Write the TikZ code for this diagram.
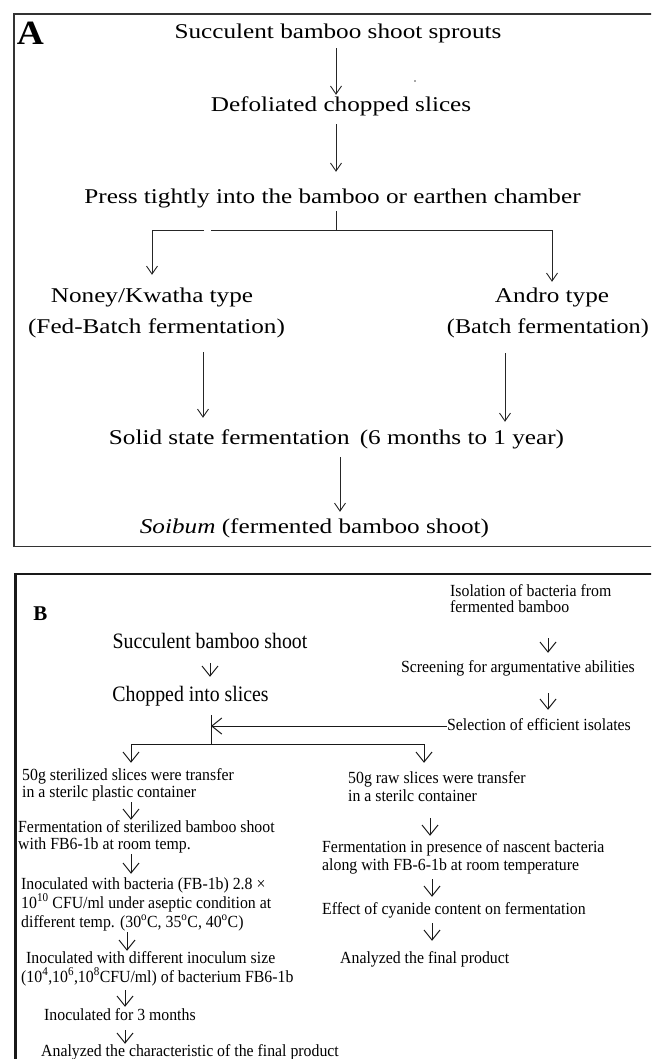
\documentclass[tikz,border=0pt]{standalone}
\usepackage{fontspec}
\setmainfont{Liberation Serif}
\usepackage{graphicx}
\usetikzlibrary{arrows.meta}
\newcommand{\sxA}[1]{\scalebox{1.2}[1]{#1}}
\newcommand{\sxM}[1]{\scalebox{0.9}[1]{#1}}
\newcommand{\sxS}[1]{\scalebox{0.93}[1]{#1}}
\tikzset{
 txA/.style={inner sep=0pt, anchor=base, font=\fontsize{21pt}{25pt}\selectfont, text height=14.5pt, text depth=4.6pt},
 txM/.style={inner sep=0pt, anchor=base, font=\fontsize{22pt}{26pt}\selectfont, text height=15pt, text depth=4.7pt},
 txS/.style={inner sep=0pt, anchor=base west, font=\fontsize{17pt}{20pt}\selectfont, text height=11.6pt, text depth=3.7pt},
 lnA/.style={draw=black!85, line width=0.9pt},
 arA/.style={lnA, -{Straight Barb[length=8pt,width=11pt]}},
 lnB/.style={draw=black!90, line width=1pt},
 arB/.style={lnB, -{Straight Barb[length=10pt,width=16pt]}},
 frameA/.style={draw=black!80, line width=1.4pt},
 frameB/.style={draw=black!90, line width=2.3pt},
}
\begin{document}
\begin{tikzpicture}[x=1pt,y=-1pt]
\useasboundingbox (0,0) rectangle (651,1059);
\clip (0,0) rectangle (651,1059);
% frames
\draw[frameA] (660,14) -- (14,14) -- (14,546.5) -- (660,546.5);
\draw[frameB] (660,574) -- (15.5,574) -- (15.5,1070);

% ---------- Panel A ----------
\node[inner sep=0pt, anchor=base, font=\fontsize{34pt}{38pt}\selectfont\bfseries] (lA) at (30.5,45) {\scalebox{1.1}[1]{A}};
\node[txA] (a1) at (338,39) {\sxA{Succulent bamboo shoot sprouts}};
\node[txA] (a2) at (341,112) {\sxA{Defoliated chopped slices}};
\node[txA] (a3) at (332.5,204) {\sxA{Press tightly into the bamboo or earthen chamber}};
\node[txA] (a4) at (152,302) {\sxA{Noney/Kwatha type}};
\node[txA] (a5) at (552,302) {\sxA{Andro type}};
\node[txA] (a6) at (156.5,333) {\sxA{(Fed-Batch fermentation)}};
\node[txA, anchor=base east] (a7) at (649,333) {\scalebox{1.15}[1]{(Batch fermentation)}};
\node[txA] (a8) at (336.5,444.5) {\sxA{Solid state fermentation\hspace{0.4em}(6 months to 1 year)}};
\node[txA] (a9) at (314.5,533) {\sxA{\textit{Soibum} (fermented bamboo shoot)}};

\coordinate (xa) at (336,0);
\coordinate (J) at (336,230);
\coordinate (gR) at (211,230);
\coordinate (gL) at (204,230);
\coordinate (xl) at (203,0);
\coordinate (xr) at (505,0);
\coordinate (xs) at (340,0);

\draw[arA, shorten <=4.4pt, shorten >=2.5pt] (a1.south -| xa) -- (a2.north -| xa);
\draw[arA, shorten <=7.4pt, shorten >=17.5pt] (a2.south -| xa) -- (a3.north -| xa);
\draw[lnA, shorten <=2.4pt] (a3.south -| xa) -- (J);
\draw[lnA] (J) -- (gR);
\draw[arA, shorten >=12.5pt] (gL) -| (a4.north);
\draw[arA, shorten >=5.5pt] (J) -| (a5.north);
\draw[arA, shorten <=14.4pt, shorten >=12pt] (a6.south -| xl) -- (a8.north -| xl);
\draw[arA, shorten <=15.4pt, shorten >=8pt] (a7.south -| xr) -- (a8.north -| xr);
\draw[arA, shorten <=7.9pt, shorten >=6.5pt] (a8.south -| xs) -- (a9.north -| xs);
\fill[black!70] (415,81) circle (0.8pt);

% ---------- Panel B ----------
\node[inner sep=0pt, anchor=base, font=\fontsize{21pt}{25pt}\selectfont\bfseries] (lB) at (40.5,620) {B};
\node[txS] (r1a) at (450,596) {\sxS{Isolation of bacteria from}};
\node[txS] (r1b) at (450,612) {\sxS{fermented bamboo}};
\node[txS, anchor=base] (r2) at (518,672) {\sxS{Screening for argumentative abilities}};
\node[txS, anchor=base] (r3) at (539,730) {\sxS{Selection of efficient isolates}};
\node[txM] (l1) at (210,648) {\sxM{Succulent bamboo shoot}};
\node[txM] (l2) at (190.5,701) {\sxM{Chopped into slices}};

\node[txS] (l3a) at (22,780) {\sxS{50g sterilized slices were transfer}};
\node[txS] (l3b) at (22,797) {\sxS{in a sterilc plastic container}};
\node[txS] (l4a) at (18,832) {\sxS{Fermentation of sterilized bamboo shoot}};
\node[txS] (l4b) at (18,849) {\sxS{with FB6-1b at room temp.}};
\node[txS] (l5a) at (21,889) {\sxS{Inoculated with bacteria (FB-1b) 2.8 ×}};
\node[txS] (l5b) at (21,908) {\sxS{10\textsuperscript{10} CFU/ml under aseptic condition at}};
\node[txS] (l5c) at (21,927) {\sxS{different temp. (30\textsuperscript{o}C, 35\textsuperscript{o}C, 40\textsuperscript{o}C)}};
\node[txS] (l6a) at (26,963) {\sxS{Inoculated with different inoculum size}};
\node[txS] (l6b) at (21,982) {\sxS{(10\textsuperscript{4},10\textsuperscript{6},10\textsuperscript{8}CFU/ml) of bacterium FB6-1b}};
\node[txS] (l7) at (44,1020) {\sxS{Inoculated for 3 months}};
\node[txS] (l8) at (41,1056) {\sxS{Analyzed the characteristic of the final product}};

\node[txS] (r4a) at (348,783) {\sxS{50g raw slices were transfer}};
\node[txS] (r4b) at (348,801) {\sxS{in a sterilc container}};
\node[txS] (r5a) at (322,852) {\sxS{Fermentation in presence of nascent bacteria}};
\node[txS] (r5b) at (322,870) {\sxS{along with FB-6-1b at room temperature}};
\node[txS] (r6) at (322,914) {\sxS{Effect of cyanide content on fermentation}};
\node[txS] (r7) at (340,963) {\sxS{Analyzed the final product}};

\coordinate (xR1) at (548,0);
\coordinate (jb) at (211,744);
\coordinate (xL) at (131,0);
\coordinate (xR) at (424,0);
\coordinate (xL2) at (127,0);
\coordinate (xL3) at (125,0);
\coordinate (xR2) at (430,0);
\coordinate (xR3) at (432,0);
\coordinate (xM) at (210,0);

\draw[arB, shorten <=10.3pt, shorten >=9pt] (l1.south -| xM) -- (l2.north -| xM);
\draw[arB, shorten <=22.3pt, shorten >=7.4pt] (r1b.south -| xR1) -- (r2.north -| xR1);
\draw[arB, shorten <=17.3pt, shorten >=8.4pt] (r2.south -| xR1) -- (r3.north -| xR1);
\draw[lnB, shorten <=9.3pt] (l2.south -| jb) -- (jb);
\draw[arB] (r3.west) -- (r3.west -| jb);
\draw[arB, shorten >=5.4pt] (jb) -| (l3a.north -| xL);
\draw[arB, shorten >=8.4pt] (jb) -| (r4a.north -| xR);
\draw[arB, shorten <=1.3pt, shorten >=0.4pt] (l3b.south -| xL) -- (l4a.north -| xL);
\draw[arB, shorten <=1.3pt, shorten >=3.4pt] (l4b.south -| xL) -- (l5a.north -| xL);
\draw[arB, shorten <=1.3pt, shorten >=0.4pt] (l5c.south -| xL2) -- (l6a.north -| xL2);
\draw[arB, shorten <=4.3pt, shorten >=1.4pt] (l6b.south -| xL3) -- (l7.north -| xL3);
\draw[arB, shorten <=6.3pt, shorten >=0.4pt] (l7.south -| xL3) -- (l8.north -| xL3);
\draw[arB, shorten <=13.3pt, shorten >=4.4pt] (r4b.south -| xR2) -- (r5a.north -| xR2);
\draw[arB, shorten <=5.3pt, shorten >=5.4pt] (r5b.south -| xR3) -- (r6.north -| xR3);
\draw[arB, shorten <=5.3pt, shorten >=10.4pt] (r6.south -| xR3) -- (r7.north -| xR3);
\end{tikzpicture}
\end{document}
